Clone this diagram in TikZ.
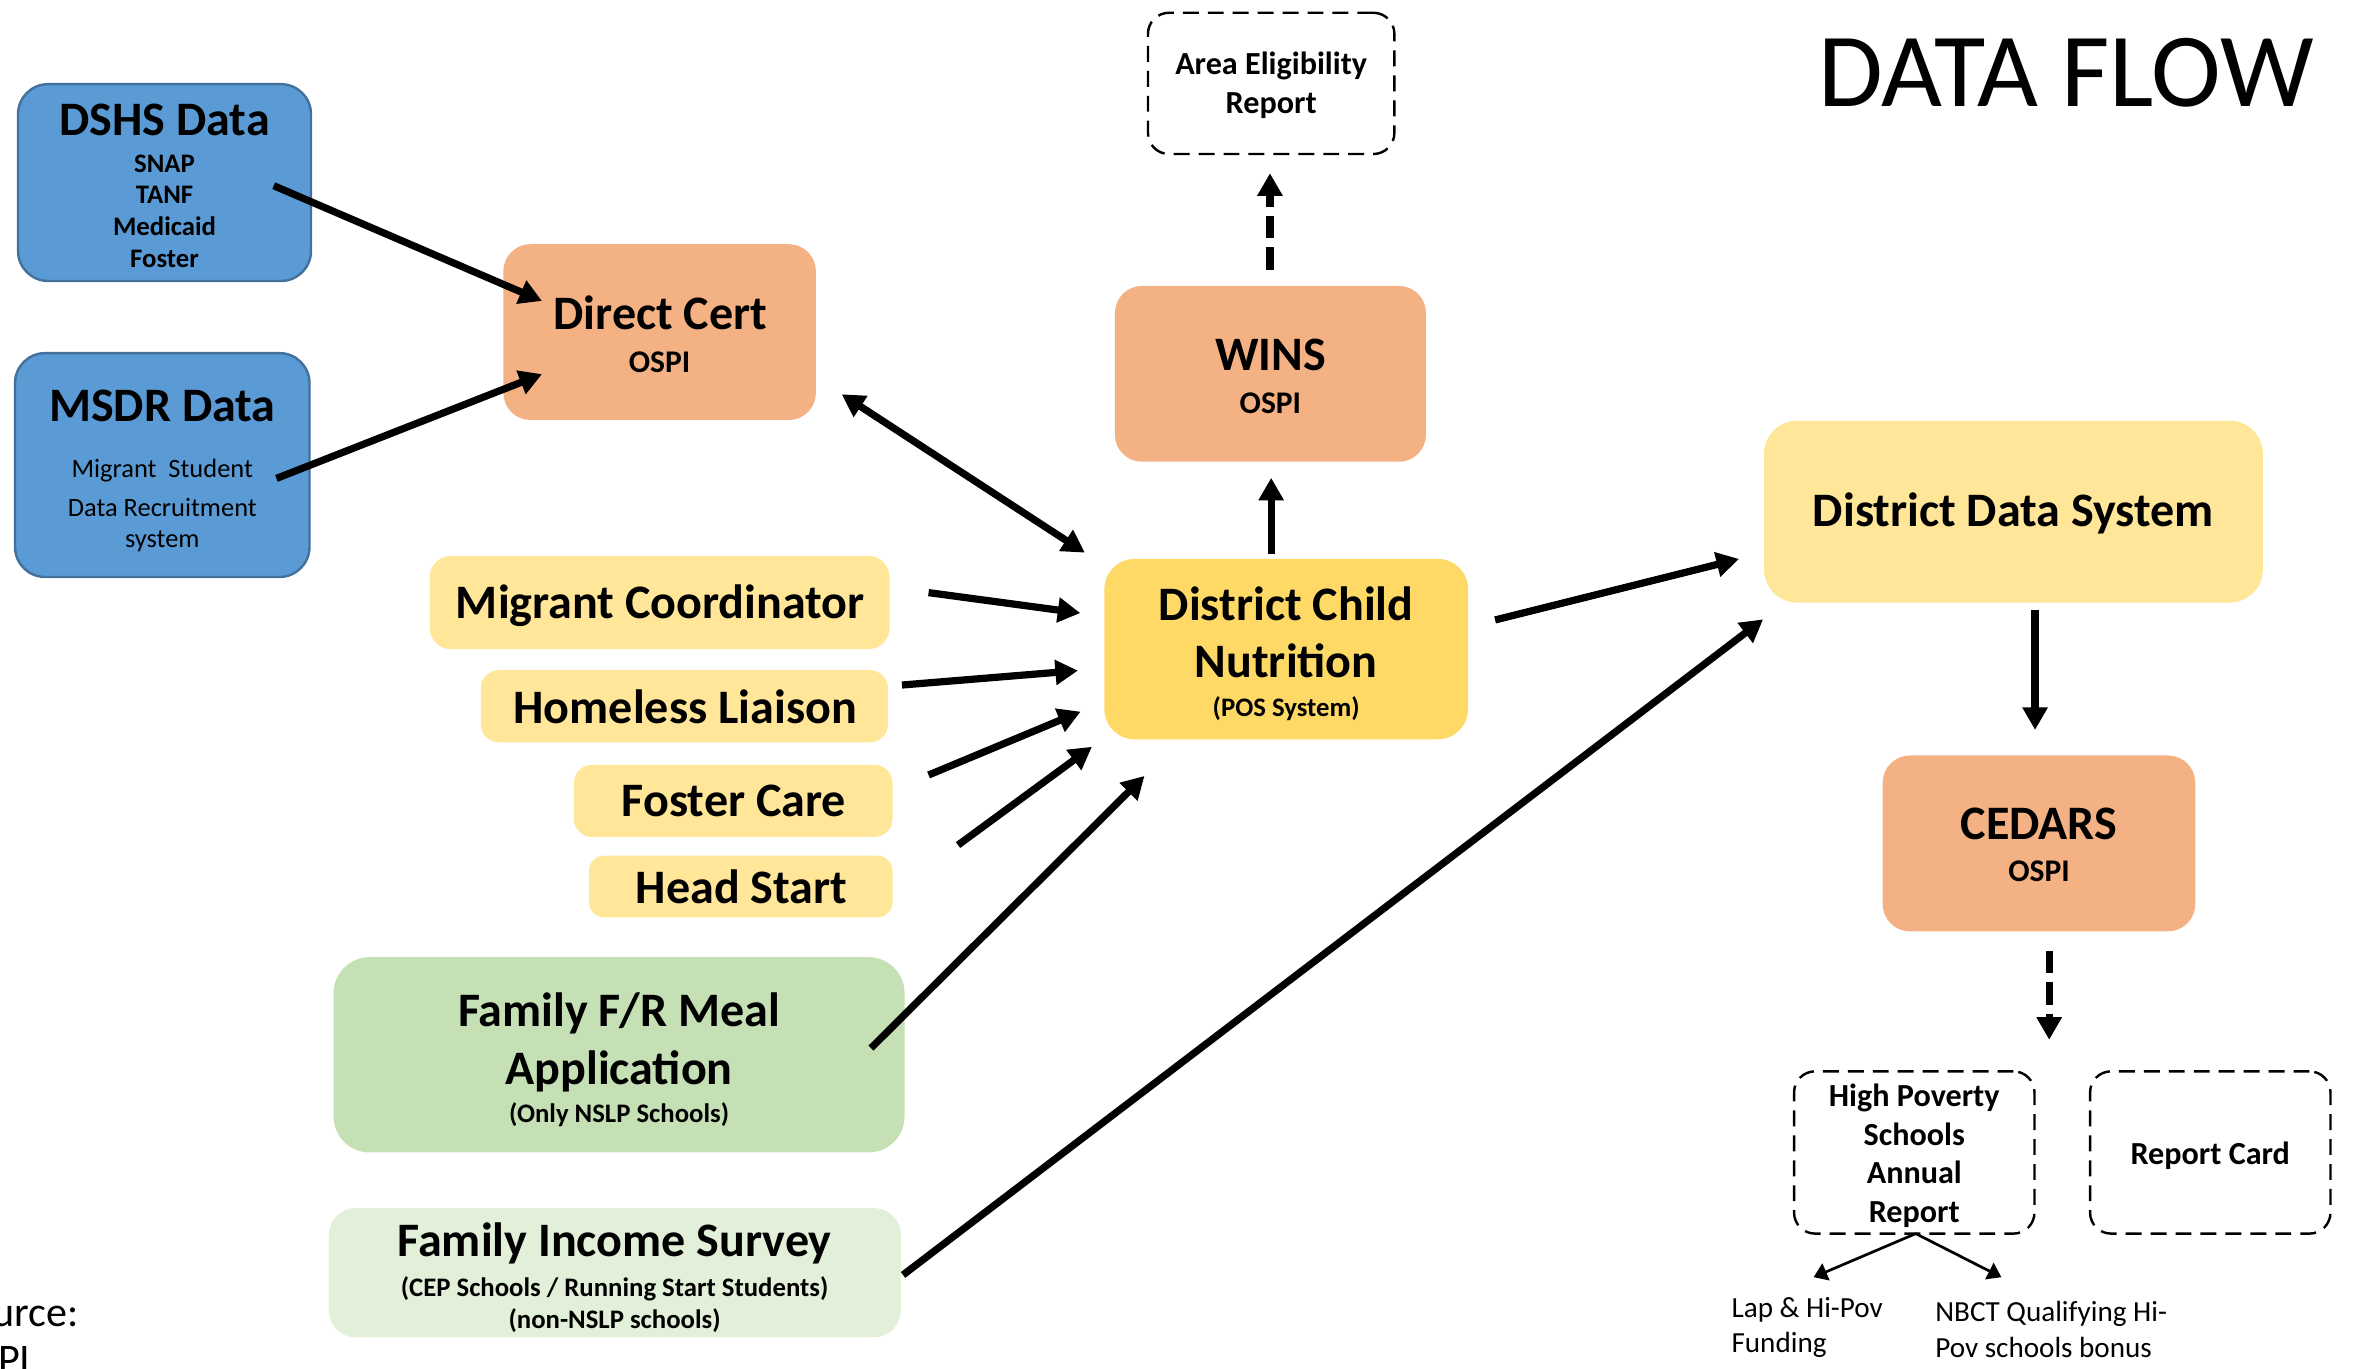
\documentclass[tikz,border=0pt]{standalone}
\usepackage{fontspec}
\setmainfont{Carlito}
\usetikzlibrary{arrows.meta}
\definecolor{dblue}{HTML}{5B9BD5}
\definecolor{dblueb}{HTML}{41719C}
\definecolor{orng}{HTML}{F4B183}
\definecolor{gold}{HTML}{FFD966}
\definecolor{lyel}{HTML}{FFE699}
\definecolor{grn}{HTML}{C5E0B4}
\definecolor{lgrn}{HTML}{E2F0D9}
\begin{document}
\begin{tikzpicture}[x=0.5pt,y=-0.5pt,
  bx/.style={rectangle, rounded corners=#1, inner sep=0pt},
  dbx/.style={rectangle, rounded corners=7pt, inner sep=0pt, draw=black, line width=0.8pt, dash pattern=on 5.3pt off 3pt},
  tbig/.style={font=\fontsize{16}{19}\selectfont\bfseries, inner sep=0pt, text height=10.1pt, text depth=0pt},
  tsub/.style={font=\fontsize{8.9}{10}\selectfont\bfseries, inner sep=0pt, text height=5.62pt, text depth=0pt},
  treg/.style={font=\fontsize{8.8}{10}\selectfont, inner sep=0pt, text height=5.56pt, text depth=0pt},
  tmid/.style={font=\fontsize{10.7}{12}\selectfont\bfseries, inner sep=0pt, text height=6.76pt, text depth=0pt},
  tospi/.style={font=\fontsize{10.5}{12}\selectfont\bfseries, inner sep=0pt, text height=6.64pt, text depth=0pt},
  tlab/.style={font=\fontsize{9.7}{11}\selectfont, inner sep=0pt, text height=6.13pt, text depth=0pt, anchor=west},
  ttitle/.style={font=\fontsize{35}{40}\selectfont, inner sep=0pt, text height=22.1pt, text depth=0pt},
  tsrc/.style={font=\fontsize{14}{16}\selectfont, inner sep=0pt, anchor=base west},
  arr/.style={line width=2.4pt, -{Triangle[length=7.5pt,width=8pt]}},
  darr/.style={line width=2.4pt, {Triangle[length=7.5pt,width=8pt]}-{Triangle[length=7.5pt,width=8pt]}},
  dsharr/.style={line width=2.4pt, dash pattern=on 7.5pt off 3pt, -{Triangle[length=7.5pt,width=8pt]}},
  thinarr/.style={line width=0.9pt, -{Triangle[length=4.5pt,width=6pt]}}
]
\useasboundingbox (0,0) rectangle (1568,911.1);

% ---------- boxes ----------
\node[bx=10pt, fill=dblue, draw=dblueb, line width=0.8pt, minimum width=97.5pt, minimum height=65.5pt] (dshs) at (109.5,121.5) {};
\node[bx=10pt, fill=dblue, draw=dblueb, line width=0.8pt, minimum width=98pt, minimum height=74.5pt] (msdr) at (108,309.5) {};
\node[bx=9pt, fill=orng, minimum width=104pt, minimum height=58.5pt] (dcert) at (439,221) {};
\node[dbx, minimum width=82pt, minimum height=47pt] (area) at (846,55.5) {};
\node[bx=9pt, fill=orng, minimum width=103.5pt, minimum height=58.5pt] (wins) at (845.5,248.8) {};
\node[bx=10pt, fill=gold, minimum width=121pt, minimum height=60pt] (dcn) at (856,432) {};
\node[bx=11pt, fill=lyel, minimum width=166pt, minimum height=60.5pt] (dds) at (1340,340.5) {};
\node[bx=9pt, fill=orng, minimum width=104pt, minimum height=58.5pt] (cedars) at (1357,561.3) {};
\node[bx=7pt, fill=lyel, minimum width=153pt, minimum height=31pt] (migr) at (439,401) {};
\node[bx=6pt, fill=lyel, minimum width=135.5pt, minimum height=24pt] (homeless) at (455.5,470) {};
\node[bx=6pt, fill=lyel, minimum width=106pt, minimum height=24pt] (foster) at (488,533) {};
\node[bx=5pt, fill=lyel, minimum width=101pt, minimum height=20.5pt] (head) at (493,590) {};
\node[bx=12pt, fill=grn, minimum width=190pt, minimum height=65pt] (frmeal) at (412,702) {};
\node[bx=9pt, fill=lgrn, minimum width=190.4pt, minimum height=43pt] (fis) at (409.2,847) {};
\node[dbx, minimum width=80pt, minimum height=54pt] (hpsar) at (1274,767) {};
\node[dbx, minimum width=80pt, minimum height=54pt] (rcard) at (1471,767) {};

% ---------- texts ----------
\node[tbig] (dshs-t) at (109.5,80.4) {DSHS Data};
\node[tsub] (dshs-1) at (109.5,109) {SNAP};
\node[tsub] (dshs-2) at (109.5,130) {TANF};
\node[tsub] (dshs-3) at (109.5,151) {Medicaid};
\node[tsub] (dshs-4) at (109.5,172.6) {Foster};

\node[tbig] (msdr-t) at (108,270.3) {MSDR Data};
\node[treg] (msdr-1) at (108,312.4) {Migrant\ \ Student};
\node[treg] (msdr-2) at (108,338) {Data Recruitment};
\node[treg] (msdr-3) at (108,359) {system};

\node[tbig] (dcert-t) at (439.5,209.5) {Direct Cert};
\node[tospi] (dcert-s) at (439,241) {OSPI};

\node[tmid] (area-1) at (846,43) {Area Eligibility};
\node[tmid] (area-2) at (846,69) {Report};

\node[ttitle] (title) at (1375,48.8) {DATA FLOW};

\node[tbig] (wins-t) at (845.5,236.8) {WINS};
\node[tospi] (wins-s) at (845.5,268.7) {OSPI};

\node[tbig] (dcn-1) at (856,403) {District Child};
\node[tbig] (dcn-2) at (856,440.6) {Nutrition};
\node[tsub] (dcn-3) at (856,471) {(POS System)};

\node[tbig] (dds-t) at (1340,340.4) {District Data System};

\node[tbig] (cedars-t) at (1357,548.4) {CEDARS};
\node[tospi] (cedars-s) at (1357,580.3) {OSPI};

\node[tbig] (migr-t) at (439.5,401.5) {Migrant Coordinator};
\node[tbig] (homeless-t) at (456,471.2) {Homeless Liaison};
\node[tbig] (foster-t) at (488.5,533.5) {Foster Care};
\node[tbig] (head-t) at (493.5,591) {Head Start};

\node[tbig] (fr-1) at (412,673.3) {Family F/R Meal};
\node[tbig] (fr-2) at (412,711.4) {Application};
\node[tsub] (fr-3) at (412,741.6) {(Only NSLP Schools)};

\node[tbig] (fis-1) at (409,826.3) {Family Income Survey};
\node[tsub] (fis-2) at (409,856.9) {(CEP Schools / Running Start Students)};
\node[tsub] (fis-3) at (409,878.4) {(non-NSLP schools)};

\node[tmid] (hp-1) at (1274,729.4) {High Poverty};
\node[tmid] (hp-2) at (1274,755.7) {Schools};
\node[tmid] (hp-3) at (1274,780.8) {Annual};
\node[tmid] (hp-4) at (1274,806.6) {Report};

\node[tmid] (rc-t) at (1471,768.2) {Report Card};

\node[tlab] (lap-1) at (1152,871) {Lap \& Hi-Pov};
\node[tlab] (lap-2) at (1152,894.2) {Funding};
\node[tlab] (nbct-1) at (1287.6,873.2) {NBCT Qualifying Hi-};
\node[tlab] (nbct-2) at (1287.6,897.6) {Pov schools bonus};

\node[tsrc] (src-1) at (-33,883) {Source:};
\node[tsrc] (src-2) at (-33,914) {OSPI};

% ---------- connector end points ----------
\coordinate (c1s) at (182.2,123.6);  \coordinate (c1e) at (360.7,200.3);
\coordinate (c2s) at (184,318.4);    \coordinate (c2e) at (360.7,249);
\coordinate (c3s) at (560.2,262.4);  \coordinate (c3e) at (722,367.8);
\coordinate (c4s) at (845.2,179.7);  \coordinate (c4e) at (845.2,115.3);
\coordinate (c5s) at (846,368.7);    \coordinate (c5e) at (846,318);
\coordinate (c6s) at (618,394.4);    \coordinate (c6e) at (719,408);
\coordinate (c7s) at (600.3,455.9);  \coordinate (c7e) at (717.4,446.3);
\coordinate (c8s) at (618,515.8);    \coordinate (c8e) at (719.2,473.6);
\coordinate (c9s) at (637.6,562.4);  \coordinate (c9e) at (726.7,497);
\coordinate (c10s) at (579.7,697.5); \coordinate (c10e) at (761.7,516.4);
\coordinate (c11s) at (601,848.5);   \coordinate (c11e) at (1173.4,412.2);
\coordinate (c12s) at (995,412.6);   \coordinate (c12e) at (1157.4,372);
\coordinate (c13s) at (1354.4,406);  \coordinate (c13e) at (1354.4,485.8);
\coordinate (c14s) at (1363.8,632.6);\coordinate (c14e) at (1363.8,692);
\coordinate (c15s) at (1275,821);
\coordinate (c15a) at (1207,850);    \coordinate (c15b) at (1332,850);

% ---------- connectors ----------
\draw[arr] (c1s) -- (c1e);
\draw[arr] (c2s) -- (c2e);
\draw[darr] (c3s) -- (c3e);
\draw[dsharr] (c4s) -- (c4e);
\draw[arr] (c5s) -- (c5e);
\draw[arr] (c6s) -- (c6e);
\draw[arr] (c7s) -- (c7e);
\draw[arr] (c8s) -- (c8e);
\draw[arr] (c9s) -- (c9e);
\draw[arr] (c10s) -- (c10e);
\draw[arr] (c11s) -- (c11e);
\draw[arr] (c12s) -- (c12e);
\draw[arr] (c13s) -- (c13e);
\draw[dsharr] (c14s) -- (c14e);
\draw[thinarr] (c15s) -- (c15a);
\draw[thinarr] (c15s) -- (c15b);
\end{tikzpicture}
\end{document}
